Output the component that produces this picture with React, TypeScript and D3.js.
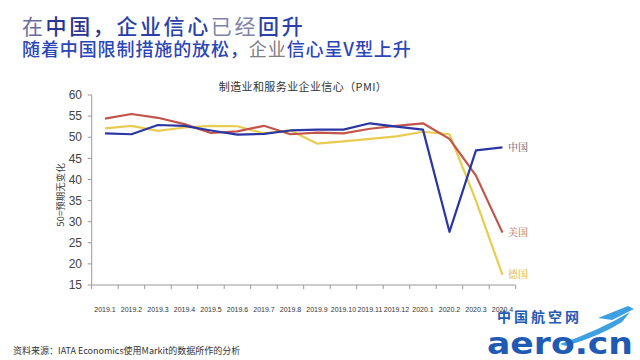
import React from "react";
import * as d3 from "d3";

const categories = ["2019.1","2019.2","2019.3","2019.4","2019.5","2019.6","2019.7","2019.8","2019.9","2019.10","2019.11","2019.12","2020.1","2020.2","2020.3","2020.4"];
const china = [50.9, 50.7, 52.9, 52.7, 51.6, 50.6, 50.8, 51.6, 51.8, 51.8, 53.3, 52.5, 51.8, 27.6, 46.9, 47.6];
const usa = [54.4, 55.5, 54.6, 53.1, 51.0, 51.4, 52.7, 50.7, 51.1, 50.9, 52.0, 52.7, 53.3, 49.6, 40.9, 27.4];
const germany = [52.1, 52.7, 51.5, 52.3, 52.7, 52.6, 50.9, 51.6, 48.5, 49.0, 49.6, 50.2, 51.3, 50.7, 35.0, 17.4];
const yTicks = [15, 20, 25, 30, 35, 40, 45, 50, 55, 60];
const seriesNames = ["中国", "美国", "德国"];

const FONT = "'Noto Sans CJK SC', 'Liberation Sans', sans-serif";

export default function App() {
  const x = d3.scaleBand<string>().domain(categories).range([91.7, 515.7]).padding(0);
  const y = d3.scaleLinear().domain([15, 60]).range([285, 95]);
  const cx = (c: string) => (x(c) as number) + x.bandwidth() / 2;
  const line = d3.line<number>().x((_, i) => cx(categories[i])).y((d) => y(d));

  const series = [
    { name: seriesNames[0], data: china, color: "#2a37a3", label: "#4f5577" },
    { name: seriesNames[1], data: usa, color: "#c25449", label: "#b0705f" },
    { name: seriesNames[2], data: germany, color: "#e8cc50", label: "#dcb22c" },
  ];
  const drawOrder = [2, 1, 0];
  const bounds = [...categories.map((c) => x(c) as number), 515.7];

  return (
    <svg width={640} height={360} style={{ position: "absolute", left: 0, top: 0, background: "#fff" }}>
      <rect x={0} y={0} width={640} height={360} fill="#fff" />
      {/* Headline */}
      <text x={22} y={34} fontFamily={FONT} fontSize={21} letterSpacing={2.6}>
        <tspan fill="#6b6f98">在</tspan>
        <tspan fill="#2a3592" fontWeight={500}>中国，</tspan>
        <tspan fill="#2b3fa8" fontWeight={500}>企业信心</tspan>
        <tspan fill="#7f84aa">已经</tspan>
        <tspan fill="#2b3fa8" fontWeight={500}>回升</tspan>
      </text>
      <text x={22} y={56} fontFamily={FONT} fontSize={18} letterSpacing={0.9}>
        <tspan fill="#2c46b8" fontWeight={500}>随着中国限制措施的放松，</tspan>
        <tspan fill="#808080">企业</tspan>
        <tspan fill="#2c46b8" fontWeight={500}>信心呈V型上升</tspan>
      </text>

      {/* Chart title */}
      <text x={303} y={91} textAnchor="middle" fontFamily={FONT} fontSize={11} fill="#333" letterSpacing={0.4}>
        制造业和服务业企业信心（PMI）
      </text>

      {/* Y axis */}
      <line x1={91.7} x2={91.7} y1={y(60)} y2={y(15)} stroke="#999" strokeWidth={1} />
      {yTicks.map((t) => (
        <g key={t}>
          <line x1={87.7} x2={91.7} y1={y(t)} y2={y(t)} stroke="#999" />
          <text x={82} y={y(t)} dy="0.35em" textAnchor="end" fontFamily="'Liberation Sans', sans-serif" fontSize={12} fill="#444">
            {t}
          </text>
        </g>
      ))}
      <text
        transform={`translate(64,195) rotate(-90)`}
        textAnchor="middle"
        fontFamily={FONT}
        fontSize={9.5}
        fill="#444"
      >
        50=预期无变化
      </text>

      {/* X axis */}
      <line x1={91.7} x2={515.7} y1={285} y2={285} stroke="#999" />
      {bounds.map((b, i) => (
        <line key={i} x1={b} x2={b} y1={285} y2={289} stroke="#999" />
      ))}
      {categories.map((c) => (
        <text key={c} x={cx(c)} y={312} textAnchor="middle" fontFamily="'Liberation Sans Narrow', 'Liberation Sans', sans-serif" fontSize={7} fill="#333">
          {c}
        </text>
      ))}

      {/* Lines */}
      {drawOrder.map((k) => {
        const s = series[k];
        return (
          <path key={s.name} d={line(s.data) || ""} fill="none" stroke={s.color} strokeWidth={2.2} strokeLinejoin="round" />
        );
      })}

      {/* Series labels */}
      {series.map((s) => {
        const last = s.data[s.data.length - 1];
        return (
          <text key={s.name} x={508} y={y(last)} dy="0.35em" fontFamily="'Noto Serif CJK SC', 'Noto Sans CJK SC', serif" fontSize={10} fill={s.label}>
            {s.name}
          </text>
        );
      })}

      {/* Source */}
      <text x={13} y={354} fontFamily={FONT} fontSize={9} fill="#333">
        资料来源：IATA Economics使用Markit的数据所作的分析
      </text>

      {/* Watermark logo */}
      <g>
        <text x={497} y={322} fontFamily={FONT} fontSize={14} fontWeight={700} fill="#1f5bb5" letterSpacing={3}>
          中国航空网
        </text>
        <path d="M560,344 Q600,330 630,312 L622,322 Q600,336 566,346 Z" fill="#3da0e0" />
        <path d="M598,318 L628,306 L634,309 L612,320 Z" fill="#3da0e0" />
        <text x={487} y={354} fontFamily="'DejaVu Sans', sans-serif" fontSize={31} fontWeight={700} fill="#1f5bb5" textLength={146} lengthAdjust="spacingAndGlyphs">
          aero.cn
        </text>
      </g>
    </svg>
  );
}
